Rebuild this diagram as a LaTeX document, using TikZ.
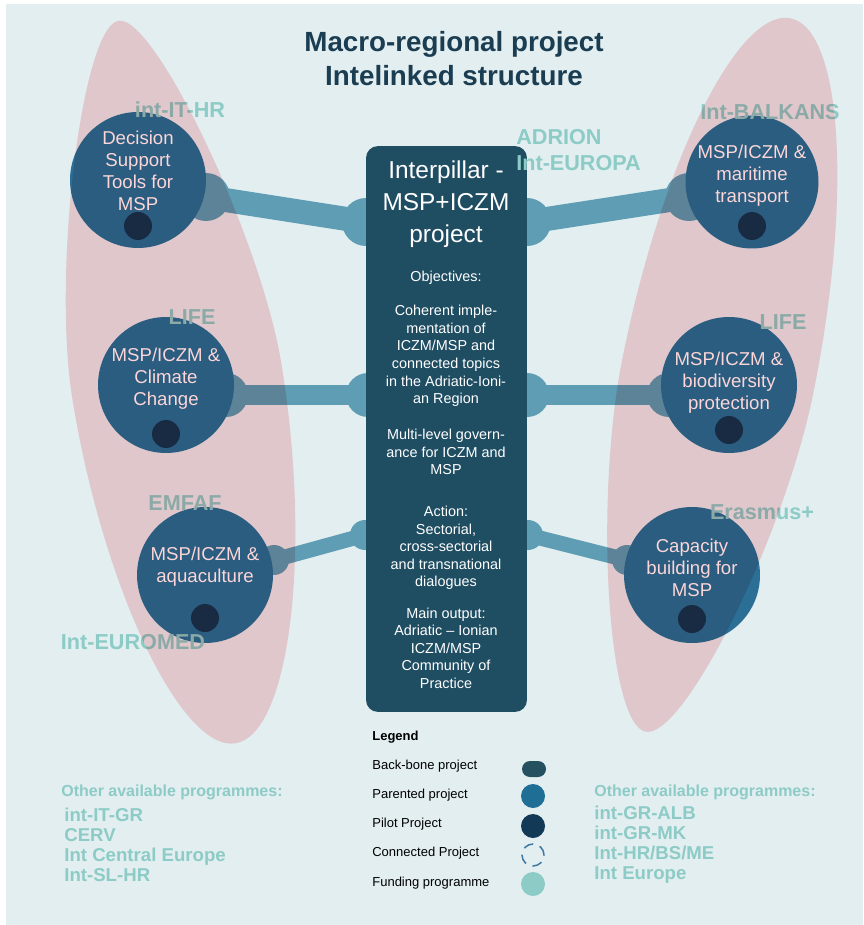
\documentclass[tikz,border=0pt]{standalone}
\usepackage{fontspec}
\setmainfont{Liberation Sans}
\usepackage{tikz}
\usetikzlibrary{calc}
\definecolor{bgblue}{HTML}{E2EEF0}
\definecolor{ellpink}{HTML}{FCD6D8}
\definecolor{boxteal}{HTML}{1F4D62}
\definecolor{parentblue}{HTML}{2B6F97}
\definecolor{pilotnavy}{HTML}{1A3350}
\definecolor{linkblue}{HTML}{5E9DB3}
\definecolor{fundteal}{HTML}{8DCBC6}
\definecolor{titlenavy}{HTML}{1B3D52}
\definecolor{legback}{HTML}{25505F}
\definecolor{legparent}{HTML}{1F6E96}
\definecolor{legpilot}{HTML}{123A57}
\definecolor{legconn}{HTML}{3E78A3}
\tikzstyle{parented} = [circle, fill=parentblue, minimum size=2.72cm, inner sep=0pt]
\tikzstyle{pilot} = [circle, fill=pilotnavy, minimum size=0.56cm, inner sep=0pt]
\tikzstyle{knob} = [circle, fill=linkblue, minimum size=0.96cm, inner sep=0pt]
\tikzstyle{smallknob} = [circle, fill=linkblue, minimum size=0.6cm, inner sep=0pt]
\tikzstyle{link} = [draw=linkblue, line width=0.48cm]
\tikzstyle{thinlink} = [draw=linkblue, line width=0.3cm]
\tikzstyle{ptext} = [text=white, align=center, font=\fontsize{10.6}{12.5}\selectfont]
\tikzstyle{boxtext} = [text=white, align=center, font=\fontsize{8.2}{10}\selectfont]
\tikzstyle{fund} = [text=fundteal, font=\bfseries\fontsize{12.3}{14}\selectfont]
\tikzstyle{legtext} = [anchor=west, inner sep=0pt, font=\fontsize{7.4}{8.5}\selectfont]
\tikzstyle{other} = [anchor=west, inner sep=0pt, align=left, text=fundteal, font=\bfseries\fontsize{10.6}{11.4}\selectfont]
\tikzstyle{region} = [fill=ellpink, blend mode=multiply]

\begin{document}
\begin{tikzpicture}[x=0.02cm, y=-0.02cm]
\useasboundingbox (0,0) rectangle (863,925);
\fill [bgblue] (6,4) rectangle (863,925);

\node (title) [text=titlenavy, align=center, font=\bfseries\fontsize{15.8}{19.3}\selectfont] at (454,59) {Macro-regional project\\Intelinked structure};

% links
\node (dstk) [knob] at (206,197) {};
\node (dstb) [knob] at (366,222) {};
\node (marib) [knob] at (527,222) {};
\node (marik) [knob] at (689,197) {};
\node (climk) [knob, minimum size=0.88cm] at (226,395) {};
\node (climb) [knob, minimum size=0.88cm] at (368,395) {};
\node (biob) [knob, minimum size=0.88cm] at (527,395) {};
\node (biok) [knob, minimum size=0.88cm] at (669,395) {};
\node (aquak) [smallknob] at (274,560) {};
\node (aquab) [smallknob] at (365,535) {};
\node (capb) [smallknob] at (528,535) {};
\node (capk) [smallknob] at (627,560) {};
\draw [link] (dstk.center) -- (dstb.center);
\draw [link] (marib.center) -- (marik.center);
\draw [link, line width=0.42cm] (climk.center) -- (climb.center);
\draw [link, line width=0.42cm] (biob.center) -- (biok.center);
\draw [thinlink] (aquak.center) -- (aquab.center);
\draw [thinlink] (capb.center) -- (capk.center);

% back-bone project
\node (ipbox) [rectangle, rounded corners=0.24cm, fill=boxteal, minimum width=3.22cm, minimum height=11.32cm] at (446.5,429) {};
\node (iptitle) [text=white, align=center, font=\fontsize{13.9}{18.2}\selectfont] at (446,204) {Interpillar -\\MSP+ICZM\\project};
\node (obj) [boxtext] at (446,278) {Objectives:};
\node (coh) [boxtext] at (446,356) {Coherent imple-\\mentation of\\ICZM/MSP and\\connected topics\\in the Adriatic-Ioni-\\an Region};
\node (mlg) [boxtext] at (446,452) {Multi-level govern-\\ance for ICZM and\\MSP};
\node (act) [boxtext] at (446,548) {Action:\\Sectorial,\\cross-sectorial\\and transnational\\dialogues};
\node (out) [boxtext] at (446,648) {Main output:\\Adriatic -- Ionian\\ICZM/MSP\\Community of\\Practice};

% parented projects
\node (dst) [parented] at (138,180) {};
\node (clim) [parented] at (166,385) {};
\node (aqua) [parented] at (205,575) {};
\node (mari) [parented, minimum size=2.66cm] at (752,182) {};
\node (bio) [parented] at (729,385) {};
\node (cap) [parented] at (692,575) {};
\node [ptext] at ($(dst)+(0,-9)$) {Decision\\Support\\Tools for\\MSP};
\node [ptext] at ($(clim)+(0,-6)$) {MSP/ICZM \&\\Climate\\Change};
\node [ptext] at ($(aqua)+(0,-8)$) {MSP/ICZM \&\\aquaculture};
\node [ptext] at ($(mari)+(0,-6)$) {MSP/ICZM \&\\maritime\\transport};
\node [ptext] at ($(bio)+(0,-2)$) {MSP/ICZM \&\\biodiversity\\protection};
\node [ptext] at ($(cap)+(0,-7)$) {Capacity\\building for\\MSP};
\foreach \p/\d in {dst/46, clim/49, aqua/43, mari/44, bio/45, cap/44}
  \node (\p dot) [pilot] at ($(\p)+(0,\d)$) {};

% funding programmes
\node (ithr) [fund] at (180,110) {int-IT-HR};
\node (lifel) [fund] at (192,317) {LIFE};
\node (emfaf) [fund] at (185,503) {EMFAF};
\node (euromed) [fund] at (133,642) {Int-EUROMED};
\node (adrion) [fund, anchor=west, inner sep=0pt] at (516,137) {ADRION};
\node (europa) [fund, anchor=west, inner sep=0pt] at (516,163) {Int-EUROPA};
\node (balkans) [fund] at (770,112) {Int-BALKANS};
\node (lifer) [fund] at (783,322) {LIFE};
\node (erasmus) [fund] at (762,512) {Erasmus+};

% macro-regions
\begin{scope}[shift={(177,382)}, rotate=9.2]
\fill [region] (0,-366) .. controls (37,-366) and (106,-128) .. (106,0) .. controls (106,190) and (55,366) .. (0,366) .. controls (-55,366) and (-106,190) .. (-106,0) .. controls (-106,-128) and (-37,-366) .. (0,-366) -- cycle;
\end{scope}
\begin{scope}[shift={(718,375)}, rotate=-11.5]
\fill [region] (0,-364) .. controls (53,-364) and (97,-200) .. (97,0) .. controls (97,146) and (39,364) .. (0,364) .. controls (-39,364) and (-97,146) .. (-97,0) .. controls (-97,-200) and (-53,-364) .. (0,-364) -- cycle;
\end{scope}

% legend
\node (legend) [legtext, font=\bfseries\fontsize{7.4}{8.5}\selectfont] at (372,737) {Legend};
\node (lback) [legtext] at (372,766) {Back-bone project};
\node (lpar) [legtext] at (372,795) {Parented project};
\node (lpil) [legtext] at (372,824) {Pilot Project};
\node (lcon) [legtext] at (372,853) {Connected Project};
\node (lfund) [legtext] at (372,883) {Funding programme};
\node (sback) [rectangle, rounded corners=0.16cm, fill=legback, minimum width=0.48cm, minimum height=0.32cm, inner sep=0pt] at (534,769) {};
\node (spar) [circle, fill=legparent, minimum size=0.48cm, inner sep=0pt] at (533,796) {};
\node (spil) [circle, fill=legpilot, minimum size=0.48cm, inner sep=0pt] at (533,826) {};
\node (scon) [circle, draw=legconn, line width=0.03cm, dash pattern=on 0.2cm off 0.14cm, minimum size=0.44cm, inner sep=0pt] at (533,855) {};
\node (sfund) [circle, fill=fundteal, minimum size=0.48cm, inner sep=0pt] at (533,884) {};

% other programmes
\node (otherl) [other, font=\bfseries\fontsize{9.1}{11}\selectfont] at (61,792) {Other available programmes:};
\node (listl) [other] at (64,845) {int-IT-GR\\CERV\\Int Central Europe\\Int-SL-HR};
\node (otherr) [other, font=\bfseries\fontsize{9.1}{11}\selectfont] at (594,792) {Other available programmes:};
\node (listr) [other] at (594,845) {int-GR-ALB\\int-GR-MK\\Int-HR/BS/ME\\Int Europe};
\end{tikzpicture}
\end{document}
